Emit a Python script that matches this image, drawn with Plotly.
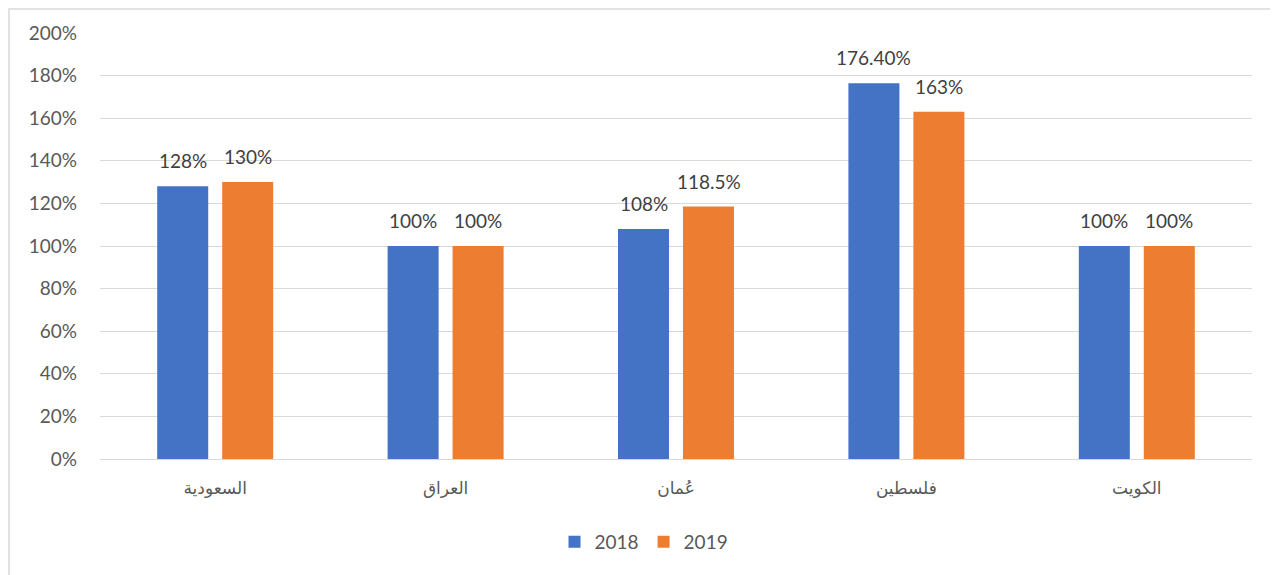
import plotly.graph_objects as go

categories = ["السعودية", "العراق", "عُمان", "فلسطين", "الكويت"]
values_2018 = [1.28, 1.00, 1.08, 1.764, 1.00]
values_2019 = [1.30, 1.00, 1.185, 1.63, 1.00]
labels_2018 = ["128%", "100%", "108%", "176.40%", "100%"]
labels_2019 = ["130%", "100%", "118.5%", "163%", "100%"]
tick_vals = [0, 0.2, 0.4, 0.6, 0.8, 1.0, 1.2, 1.4, 1.6, 1.8, 2.0]
tick_text = ["0%", "20%", "40%", "60%", "80%", "100%", "120%", "140%", "160%", "180%", "200%"]

# page body has an 8px margin; the figure is sized so it sits in the 1278x575 window
OFF = 8
W, H = 1270, 567
L, R, T, B = 92, 26, 25, 116

FONT = "Lato, Open Sans, sans-serif"
lab_font = dict(family=FONT, size=19, color="#404040")

fig = go.Figure()
fig.add_trace(go.Bar(name="2018", x=categories, y=values_2018,
                     marker=dict(color="#4472C4", line=dict(width=0))))
fig.add_trace(go.Bar(name="2019", x=categories, y=values_2019,
                     marker=dict(color="#ED7D31", line=dict(width=0))))

# data labels above bars (grouped offset of half a slot)
slot_px = 65
for vals, labs, sh in [(values_2018, labels_2018, -slot_px / 2), (values_2019, labels_2019, slot_px / 2)]:
    for c, v, t in zip(categories, vals, labs):
        fig.add_annotation(x=c, y=v, text=t, showarrow=False, xref="x", yref="y",
                           xshift=sh, yshift=12, yanchor="bottom", font=lab_font)

pw = W - L - R
ph = H - T - B
def px_x(p):
    return (p - OFF - L) / pw
def px_y(p):
    return (H - B + OFF - p) / ph

fig.update_layout(
    width=W, height=H,
    margin=dict(l=L, r=R, t=T, b=B),
    paper_bgcolor="white", plot_bgcolor="white",
    barmode="group", bargap=0.436, bargroupgap=0.215,
    showlegend=True,
    legend=dict(orientation="h", x=px_x(644), xanchor="center", y=px_y(542), yanchor="middle",
                font=dict(family=FONT, size=19, color="#595959"),
                itemwidth=30, tracegroupgap=0),
    shapes=[
        dict(type="line", xref="paper", yref="paper", x0=px_x(8.5), x1=px_x(1300), y0=px_y(9), y1=px_y(9),
             line=dict(color="#d9d9d9", width=1.5)),
        dict(type="line", xref="paper", yref="paper", x0=px_x(9), x1=px_x(9), y0=px_y(8.5), y1=px_y(600),
             line=dict(color="#d9d9d9", width=1.5)),
    ],
)
fig.update_yaxes(range=[0, 2.0], tickvals=tick_vals, ticktext=tick_text,
                 showgrid=True, gridcolor="#d9d9d9", gridwidth=1,
                 zeroline=True, zerolinecolor="#d9d9d9", zerolinewidth=1,
                 showline=False, ticks="", ticklabelstandoff=22,
                 tickfont=dict(family=FONT, size=19, color="#595959"))
fig.update_xaxes(showline=True, linecolor="#d9d9d9", linewidth=1, ticks="",
                 ticklabelstandoff=14,
                 tickfont=dict(family="Liberation Sans, DejaVu Sans, sans-serif", size=17, color="#595959"))

fig.write_html("out.html")
